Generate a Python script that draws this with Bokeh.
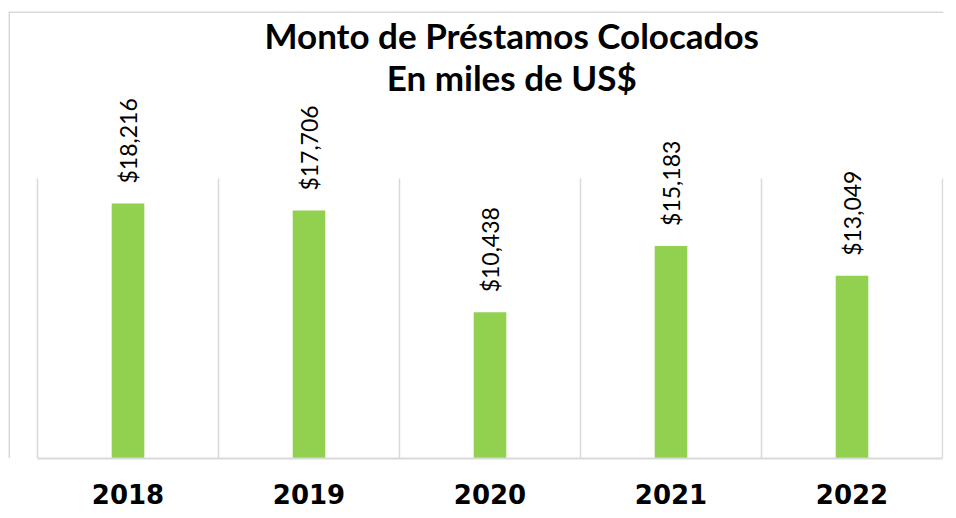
import math
from bokeh.plotting import figure
from bokeh.models import Range1d, FixedTicker, LabelSet, Label, ColumnDataSource, Span
from bokeh.core.properties import value
from bokeh.embed import file_html
from bokeh.resources import INLINE

# --- data -------------------------------------------------------------
years = ["2018", "2019", "2020", "2021", "2022"]
montos = [18216, 17706, 10438, 15183, 13049]
eje_max = 20000
titulo = "Monto de Préstamos Colocados"
subtitulo = "En miles de US$"

etiquetas = ["${:,}".format(v) for v in montos]
xs = [i + 0.5 for i in range(len(years))]
limites = list(range(len(years) + 1))

GREEN = "#92D050"
GRID = "#D9D9D9"

# frame: page x 8..943, page y 11..458 ; category width 181px ; 20000 -> 280px
p = figure(width=956, height=518, output_backend="svg", toolbar_location=None,
           x_range=Range1d(-29 / 181, 906 / 181),
           y_range=Range1d(0, eje_max * 447 / 280),
           min_border_left=8, min_border_right=13, min_border_top=11, min_border_bottom=60)
p.background_fill_color = "white"
p.border_fill_color = "white"
p.outline_line_color = None
p.xgrid.visible = False
p.ygrid.visible = False
p.yaxis.visible = False

# category separators
p.segment(x0=limites, y0=[0] * len(limites), x1=limites, y1=[eje_max] * len(limites),
          line_color=GRID, line_width=1.5)

# bars
src = ColumnDataSource(dict(x=xs, top=montos, text=etiquetas))
p.vbar(x="x", top="top", width=0.18, source=src, fill_color=GREEN, line_color=None)

labels = LabelSet(x="x", y="top", text="text", source=src, angle=math.pi / 2,
                  text_align="left", text_baseline="middle", y_offset=20,
                  text_font=value("Lato"), text_font_size="23px", text_color="black")
p.add_layout(labels)

# x axis
ax = p.xaxis[0]
ax.ticker = FixedTicker(ticks=xs)
ax.major_label_overrides = {x: y for x, y in zip(xs, years)}
ax.bounds = (0, len(years))
ax.axis_line_color = GRID
ax.axis_line_width = 2
ax.major_tick_line_color = None
ax.minor_tick_line_color = None
ax.major_label_standoff = 19
ax.major_label_text_font = "DejaVu Sans"
ax.major_label_text_font_style = "bold"
ax.major_label_text_font_size = "26px"
ax.major_label_text_color = "black"

# titles
ypx = lambda page_y: (458 - page_y) / 280 * eje_max
p.add_layout(Label(x=2.62, y=ypx(34), text=titulo, text_align="center", text_baseline="middle",
                   text_font="Lato", text_font_style="bold", text_font_size="35px", text_color="black"))
p.add_layout(Label(x=2.62, y=ypx(76), text=subtitulo, text_align="center", text_baseline="middle",
                   text_font="Lato", text_font_style="bold", text_font_size="35px", text_color="black"))

# chart-area border (top and left)
p.add_layout(Span(location=p.y_range.end, dimension="width", line_color=GRID, line_width=3))
p.add_layout(Span(location=p.x_range.start, dimension="height", line_color=GRID, line_width=3))

open("out.html", "w").write(file_html(p, INLINE))
